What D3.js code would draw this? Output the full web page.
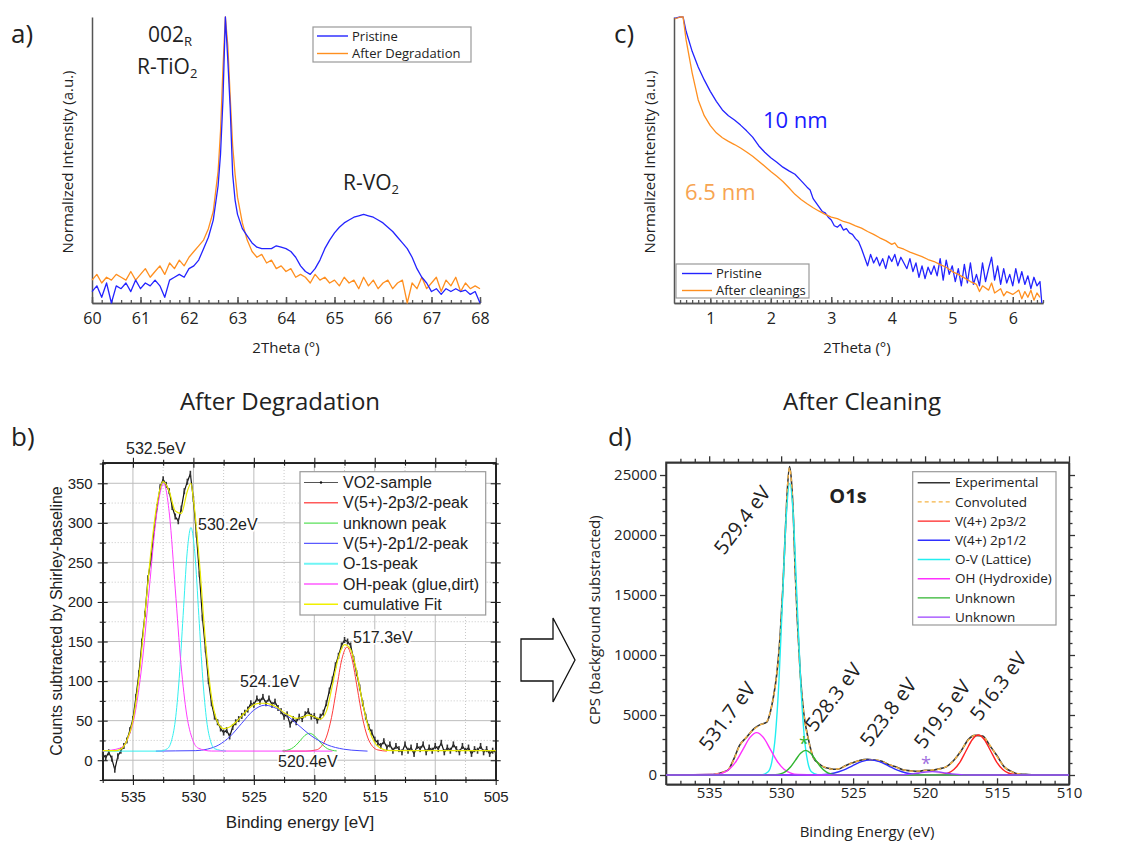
<!DOCTYPE html>
<html>
<head lang="en">
    <meta charset="UTF-8">
    <title>XRD / XPS VO2</title>
    <script src="https://cdn.jsdelivr.net/npm/d3@7/dist/d3.min.js"></script>
    <style>
        body { margin: 0; background: #fff; }
        svg text { font-family: "Open Sans", sans-serif; fill: #222; }
        svg .arial text, svg text.arial { font-family: "Liberation Sans", Arial, sans-serif; }
    </style>
</head>
<body>
<svg id="fig" width="1121" height="841"></svg>
<script type="text/javascript">
// ---------- a) XRD around the 002 TiO2 reflection ----------
var aTheta = [60.0,60.1,60.2,60.3,60.4,60.5,60.6,60.7,60.8,60.9,61.0,61.1,61.2,61.3,61.4,61.5,61.6,61.7,61.8,61.9,
  62.0,62.1,62.2,62.3,62.4,62.5,62.6,62.65,62.7,62.75,62.8,62.85,62.9,62.95,63.0,63.1,63.2,63.3,63.4,63.5,
  63.6,63.7,63.8,63.9,64.0,64.1,64.2,64.3,64.4,64.5,64.6,64.7,64.8,64.9,65.0,65.1,65.2,65.3,65.4,65.5,
  65.6,65.7,65.8,65.9,66.0,66.1,66.2,66.3,66.4,66.5,66.6,66.7,66.8,66.9,67.0,67.1,67.2,67.3,67.4,67.5,
  67.6,67.7,67.8,67.9,68.0];
var aPristine = [0.04,0.06,0.02,0.07,0.00,0.06,0.05,0.07,0.04,0.08,0.05,0.07,0.06,0.08,0.06,0.02,0.08,0.09,0.10,0.09,
  0.12,0.13,0.15,0.19,0.23,0.29,0.41,0.52,0.71,1.00,0.85,0.68,0.45,0.36,0.31,0.26,0.235,0.21,0.195,0.19,
  0.19,0.19,0.20,0.195,0.19,0.18,0.16,0.13,0.11,0.10,0.12,0.15,0.19,0.22,0.245,0.265,0.28,0.29,0.30,0.305,
  0.31,0.305,0.30,0.29,0.28,0.265,0.25,0.23,0.21,0.19,0.16,0.12,0.09,0.07,0.04,0.05,0.03,0.05,0.04,0.05,
  0.04,0.045,0.03,0.04,0.0];
var aDegraded = [0.08,0.10,0.07,0.09,0.08,0.10,0.09,0.08,0.11,0.08,0.10,0.12,0.09,0.11,0.13,0.10,0.14,0.12,0.15,0.13,
  0.16,0.18,0.20,0.22,0.26,0.32,0.46,0.60,0.82,1.00,0.90,0.72,0.55,0.45,0.37,0.28,0.22,0.18,0.16,0.17,
  0.14,0.15,0.12,0.13,0.11,0.12,0.09,0.10,0.09,0.07,0.10,0.08,0.09,0.07,0.08,0.06,0.09,0.07,0.08,0.05,
  0.09,0.06,0.08,0.05,0.07,0.08,0.05,0.07,0.08,0.00,0.07,0.05,0.09,0.05,0.07,0.09,0.04,0.08,0.06,0.09,
  0.04,0.07,0.05,0.06,0.05];
var aTicks = [60, 61, 62, 63, 64, 65, 66, 67, 68];

// ---------- c) XRR ----------
var cThetaP = [0.41,0.5,0.55,0.6,0.7,0.8,0.9,1.0,1.1,1.2,1.3,1.4,1.5,1.6,1.7,1.8,1.9,2.0,2.1,2.2,2.3,2.4,2.5,2.6,2.65,
  2.7,2.75,2.8,2.85,2.9,2.95,3.0,3.05,3.1,3.15,3.2,3.25,3.3,3.35,3.4,3.45,3.5,3.55,3.6,3.65,3.7,3.75,3.8,3.85,3.9,
  3.95,4.0,4.05,4.1,4.15,4.2,4.25,4.3,4.35,4.4,4.45,4.5,4.55,4.6,4.65,4.7,4.75,4.8,4.85,4.9,4.95,5.0,5.05,5.1,5.15,
  5.2,5.25,5.3,5.35,5.4,5.45,5.5,5.55,5.6,5.65,5.7,5.75,5.8,5.85,5.9,5.95,6.0,6.05,6.1,6.15,6.2,6.25,6.3,6.35,6.4,
  6.45,6.48];
var cPristine = [0.995,1.0,1.0,0.95,0.88,0.825,0.78,0.74,0.705,0.675,0.655,0.64,0.622,0.602,0.58,0.55,0.527,0.508,0.492,0.475,0.462,0.45,0.428,0.405,0.395,
  0.365,0.35,0.335,0.32,0.315,0.30,0.29,0.27,0.265,0.275,0.255,0.26,0.245,0.24,0.225,0.215,0.19,0.16,0.13,0.17,0.14,0.16,0.13,0.155,0.12,
  0.165,0.145,0.17,0.13,0.16,0.14,0.12,0.155,0.11,0.14,0.09,0.13,0.085,0.125,0.10,0.13,0.095,0.155,0.08,0.15,0.10,0.13,0.075,0.12,0.06,
  0.135,0.07,0.14,0.065,0.10,0.06,0.14,0.075,0.12,0.16,0.08,0.13,0.065,0.12,0.07,0.10,0.06,0.12,0.07,0.11,0.065,0.095,0.05,0.09,0.06,
  0.075,0.0];
var cThetaC = [0.41,0.5,0.55,0.6,0.7,0.8,0.9,1.0,1.1,1.2,1.3,1.4,1.5,1.6,1.7,1.8,1.9,2.0,2.1,2.2,2.3,2.4,2.5,2.6,2.7,
  2.8,2.9,3.0,3.1,3.2,3.3,3.4,3.5,3.6,3.7,3.8,3.9,4.0,4.05,4.1,4.2,4.3,4.4,4.5,4.6,4.7,4.8,4.9,5.0,5.1,
  5.2,5.3,5.4,5.45,5.5,5.6,5.65,5.7,5.8,5.85,5.9,6.0,6.1,6.15,6.2,6.25,6.3,6.35,6.4,6.45];
var cCleaned = [0.993,1.0,1.0,0.92,0.805,0.71,0.655,0.62,0.595,0.578,0.565,0.554,0.542,0.528,0.513,0.496,0.478,0.46,0.443,0.425,0.403,0.38,0.362,0.347,0.333,
  0.321,0.31,0.30,0.295,0.285,0.279,0.27,0.262,0.25,0.24,0.228,0.218,0.205,0.21,0.195,0.188,0.178,0.17,0.162,0.152,0.145,0.134,0.125,0.11,0.10,
  0.088,0.075,0.065,0.04,0.06,0.045,0.07,0.035,0.05,0.025,0.04,0.03,0.045,0.015,0.04,0.02,0.045,0.01,0.035,0.02];
var cTicks = [1, 2, 3, 4, 5, 6];

// ---------- b) XPS after degradation ----------
var bEnergy = d3.range(537.5, 504.99, -0.25);
var bCounts = [8,3,10,2, -12,5,12,18, 25,38,52,80, 110,150,185,230, 255,290,320,345, 355,348,340,320,
  308,302,318,340, 352,362,330,285, 235,180,140,100, 72,55,48,40, 35,38,30,42, 48,52,56,60,
  64,72,70,78, 74,80,72,78, 70,74,66,62, 55,58,45,52, 48,55,52,58, 62,55,56,50,
  55,60,72,88, 102,120,132,145, 152,150,145,128, 110,92,72,55, 42,35,26,22, 18,24,16,20,
  12,18,14,10, 20,12,16,8, 18,14,20,10, 16,12,18,14, 22,10,16,12, 20,14,10,18,
  12,16,8,14, 12,18,10,14, 8,12,10];
var bV2p32 = [[522.6,11.5],[520.7,11.5],[519.85,13],[519.425,17.3],[519,29.3],[518.575,54.2],[518.15,91.3],[517.725,127.5],
  [517.3,143],[516.875,127.5],[516.45,91.3],[516.025,54.2],[515.6,29.3],[515.175,17.3],[514.75,13],[514,11.5]];
var bUnknown = [[522.65,11.75],[522.275,12.5],[521.9,14.5],[521.525,18.8],[521.15,25.1],[520.775,31.4],[520.4,34],
  [520.025,31.4],[519.65,25.1],[519.275,18.8],[518.9,14.5],[518.525,12.5],[518.15,11.75]];
var bV2p12 = [[533.1,11.5],[531.5,11.8],[529.8,12.1],[528.85,14],[527.9,19.3],[526.95,30.3],[526,46.7],[525.05,62.7],
  [524.1,69.5],[522.8,62.7],[521.5,46.7],[520.2,30.3],[518.9,19.3],[517.6,14],[516.3,12.1],[515.6,11.5]];
var bO1s = [[537.5,11.5],[532.8,11.5],[532.15,14.6],[531.825,23.9],[531.5,49.7],[531.175,103.2],[530.85,182.8],[530.525,260.8],
  [530.2,294],[529.875,260.8],[529.55,182.8],[529.225,103.2],[528.9,49.7],[528.575,23.9],[528.25,14.6],[527.3,11.5]];
var bOH = [[537.5,11.6],[536.05,15.3],[535.45,26.3],[534.85,57.2],[534.25,121.3],[533.65,216.5],[533.05,309.8],[532.45,349.5],
  [531.975,309.8],[531.5,216.5],[531.025,121.3],[530.55,57.2],[530.075,26.3],[529.6,15.3],[528.5,11.6],[518.5,11.5]];
var bFit = [[537.5,12],[536.5,12],[536,14],[535.5,25],[535,50],[534.5,105],[534,185],[533.5,265],[533,325],[532.5,352],
  [532,340],[531.5,315],[531,312],[530.5,340],[530.2,350],[530,330],[529.5,250],[529,150],[528.5,80],[528,48],
  [527.5,40],[527,42],[526.5,48],[526,56],[525.5,64],[525,70],[524.5,72],[524,72],[523.5,70],[523,66],
  [522.5,60],[522,56],[521.5,53],[521,54],[520.5,57],[520,55],[519.5,52],[519,62],[518.5,95],[518,130],
  [517.5,146],[517,140],[516.5,112],[516,72],[515.5,40],[515,22],[514.5,15],[514,12.5],[513,12],[505,12]];
var bXTicks = [535, 530, 525, 520, 515, 510, 505];
var bXMinor = [537.5, 532.5, 527.5, 522.5, 517.5, 512.5, 507.5];
var bYTicks = [0, 50, 100, 150, 200, 250, 300, 350];
var bYMinor = [-25, 25, 75, 125, 175, 225, 275, 325, 375];

// ---------- d) XPS after cleaning ----------
var dEnergy = [538,536,535,534.5,534,533.7,533.3,532.9,532.4,531.9,531.46,531.0,530.75,530.53,530.3,530.07,529.88,529.72,529.6,529.42,
  529.26,529.14,529.03,528.87,528.68,528.45,528.1,527.76,527.4,527.06,526.7,526.37,526,525.5,525,524.5,524,523.5,523,522.5,
  522,521.5,521,520.5,520,519.5,519,518.5,518,517.5,517,516.5,516,515.5,515,514.5,514,513.5,513,512,510];
var dExp = [0,20,30,90,260,400,1300,2450,3150,3850,4200,4400,5250,6550,8450,11600,15600,20000,23100,25700,
  24100,21200,17200,12800,8600,5350,2950,1450,980,680,560,480,500,800,1030,1230,1300,1240,1140,860,
  660,410,350,300,390,400,520,700,1230,2000,2950,3300,3250,2450,1600,680,300,80,60,-20,10];
var dConv = [0,5,30,100,250,420,1250,2400,3190,3800,4170,4440,5300,6500,8500,11500,15700,19900,23200,25600,
  24000,21250,17100,12900,8500,5400,2900,1500,950,700,550,470,520,780,1050,1200,1280,1260,1120,880,
  640,430,330,320,370,420,500,720,1200,2050,2900,3320,3200,2500,1550,700,280,100,30,5,0];
var dV2p32 = [[538,0],[519.7,1],[518.85,37],[518.425,146],[518,451],[517.575,1081],[517.15,2020],[516.725,2939],[516.3,3330],
  [515.875,2939],[515.45,2020],[515.025,1081],[514.6,451],[514.175,146],[513.75,37],[512.9,1],[510,0]];
var dV2p12 = [[538,0],[528.8,0.4],[527.55,14],[526.925,55],[526.3,170],[525.675,409],[525.05,764],[524.425,1112],[523.8,1260],
  [523.175,1112],[522.55,764],[521.925,409],[521.3,170],[520.675,55],[520.05,14],[518.8,0.4],[510,0]];
var dLattice = [[538,0],[531.4,8],[530.9,270],[530.65,1067],[530.4,3288],[530.15,7890],[529.9,14738],[529.65,21445],[529.4,24300],
  [529.15,21445],[528.9,14738],[528.65,7890],[528.4,3288],[528.15,1067],[527.9,270],[527.4,8],[510,0]];
var dHydroxide = [[538,0],[534.55,39],[534.075,155],[533.6,478],[533.125,1146],[532.65,2141],[532.175,3115],[531.7,3530],
  [531.225,3115],[530.75,2141],[530.275,1146],[529.8,478],[529.325,155],[528.85,39],[527.5,0],[510,0]];
var dUnknownA = [[538,0],[531.1,1],[530.4,23],[530.05,90],[529.7,277],[529.35,666],[529,1243],[528.65,1809],[528.3,2050],
  [527.95,1809],[527.6,1243],[527.25,666],[526.9,277],[526.55,90],[526.2,23],[525.5,1],[510,0]];
var dUnknownB = [[538,0],[523.1,0],[522.2,3],[521.75,12],[521.3,38],[520.85,91],[520.4,170],[519.95,247],[519.5,280],
  [519.05,247],[518.6,170],[518.15,91],[517.7,38],[517.25,12],[516.8,3],[515.9,0],[510,0]];
var dXTicks = [535, 530, 525, 520, 515, 510];
var dYTicks = [0, 5000, 10000, 15000, 20000, 25000];

var svg = d3.select('#fig');

function zip(xs, ys) {
  return xs.map(function(v, i) { return [v, ys[i]]; });
}
function drawLine(g, x, y, pts, color, width, curve, dash) {
  var gen = d3.line().x(function(d) { return x(d[0]); }).y(function(d) { return y(d[1]); });
  if (curve) gen.curve(curve);
  var p = g.append('path').datum(pts).attr('d', gen)
    .attr('fill', 'none').attr('stroke', color).attr('stroke-width', width)
    .attr('stroke-linejoin', 'round');
  if (dash) p.attr('stroke-dasharray', dash);
  return p;
}
function styleAxis(sel, color, width, font, size) {
  sel.selectAll('path, line').attr('stroke', color).attr('stroke-width', width);
  sel.attr('font-family', font).attr('font-size', size);
  sel.selectAll('text').attr('fill', '#222').style('font-family', font);
}
function legend(g, x, y, w, h, rows, lineX1, lineX2, textX, rowY0, rowStep, size) {
  g.append('rect').attr('x', x).attr('y', y).attr('width', w).attr('height', h)
    .attr('fill', '#fff').attr('stroke', '#999').attr('stroke-width', 1.2);
  rows.forEach(function(r, i) {
    var yy = rowY0 + i * rowStep;
    var l = g.append('line').attr('x1', lineX1).attr('x2', lineX2).attr('y1', yy).attr('y2', yy)
      .attr('stroke', r[1]).attr('stroke-width', r[2] || 1.4);
    if (r[3]) l.attr('stroke-dasharray', r[3]);
    g.append('text').attr('x', textX).attr('y', yy).attr('dy', '0.35em')
      .attr('font-size', size).text(r[0]);
  });
}

var FONT = '"Open Sans", sans-serif';
var ARIAL = '"Liberation Sans", Arial, sans-serif';
var BLUE = '#2323ff', ORANGE = '#ff8f1f';

// ===== panel a =====
var gA = svg.append('g');
var xA = d3.scaleLinear().domain([60, 68]).range([92, 480]);
var yA = d3.scaleLinear().domain([0, 1]).range([303, 17]);
gA.append('g').attr('transform', 'translate(0,303)')
  .call(d3.axisBottom(xA).tickValues(d3.range(60, 68.001, 0.2)).tickSize(-3).tickSizeOuter(0).tickFormat(''))
  .call(styleAxis, '#555', 1.3, FONT, 16);
gA.append('g').attr('transform', 'translate(0,303)')
  .call(d3.axisBottom(xA).tickValues(aTicks).tickSize(-6).tickSizeOuter(0).tickPadding(10).tickFormat(d3.format('d')))
  .call(styleAxis, '#555', 1.5, FONT, 16);
gA.append('g').attr('transform', 'translate(92,0)')
  .call(d3.axisLeft(yA).tickValues([]).tickSizeOuter(0))
  .call(styleAxis, '#555', 1.5, FONT, 16);
drawLine(gA, xA, yA, zip(aTheta, aDegraded), ORANGE, 1.3);
drawLine(gA, xA, yA, zip(aTheta, aPristine), BLUE, 1.3);
legend(gA, 313, 27, 158, 35, [['Pristine', BLUE], ['After Degradation', ORANGE]], 317, 348, 352, 36, 17.5, 13);
gA.append('text').attr('x', 286).attr('y', 353).attr('text-anchor', 'middle').attr('font-size', 15).text('2Theta (°)');
gA.append('text').attr('transform', 'translate(73,162) rotate(-90)').attr('text-anchor', 'middle')
  .attr('font-size', 15).text('Normalized Intensity (a.u.)');
var t1 = gA.append('text').attr('x', 148).attr('y', 42).attr('font-size', 21);
t1.append('tspan').text('002');
t1.append('tspan').attr('font-size', 13).attr('dy', 4).text('R');
var t2 = gA.append('text').attr('x', 137).attr('y', 74).attr('font-size', 21);
t2.append('tspan').text('R-TiO');
t2.append('tspan').attr('font-size', 13).attr('dy', 4).text('2');
var t3 = gA.append('text').attr('x', 343).attr('y', 190).attr('font-size', 21);
t3.append('tspan').text('R-VO');
t3.append('tspan').attr('font-size', 13).attr('dy', 4).text('2');
gA.append('text').attr('x', 11).attr('y', 43).attr('font-size', 26).text('a)');

// ===== panel c =====
var gC = svg.append('g');
var xC = d3.scaleLinear().domain([0.4, 6.5]).range([674, 1043]);
var yC = d3.scaleLinear().domain([0, 1]).range([303, 17]);
gC.append('g').attr('transform', 'translate(0,303)')
  .call(d3.axisBottom(xC).tickValues(d3.range(0.5, 6.501, 0.1)).tickSize(-3).tickSizeOuter(0).tickFormat(''))
  .call(styleAxis, '#555', 1.3, FONT, 16);
gC.append('g').attr('transform', 'translate(0,303)')
  .call(d3.axisBottom(xC).tickValues(cTicks).tickSize(-6).tickSizeOuter(0).tickPadding(10).tickFormat(d3.format('d')))
  .call(styleAxis, '#555', 1.5, FONT, 16);
gC.append('g').attr('transform', 'translate(674,0)')
  .call(d3.axisLeft(yC).tickValues([]).tickSizeOuter(0))
  .call(styleAxis, '#555', 1.5, FONT, 16);
drawLine(gC, xC, yC, zip(cThetaP, cPristine), BLUE, 1.3);
drawLine(gC, xC, yC, zip(cThetaC, cCleaned), ORANGE, 1.3);
legend(gC, 676, 264, 133, 34, [['Pristine', BLUE], ['After cleanings', ORANGE]], 682, 712, 716, 273.5, 17, 13);
gC.append('text').attr('x', 857).attr('y', 353).attr('text-anchor', 'middle').attr('font-size', 15).text('2Theta (°)');
gC.append('text').attr('transform', 'translate(655,162) rotate(-90)').attr('text-anchor', 'middle')
  .attr('font-size', 15).text('Normalized Intensity (a.u.)');
gC.append('text').attr('x', 763).attr('y', 128).attr('font-size', 22).style('fill', '#1a1aff').text('10 nm');
gC.append('text').attr('x', 685).attr('y', 200).attr('font-size', 22).style('fill', '#f7a451').text('6.5 nm');
gC.append('text').attr('x', 614).attr('y', 43).attr('font-size', 26).text('c)');

// ===== middle titles + arrow =====
svg.append('text').attr('x', 280).attr('y', 410).attr('text-anchor', 'middle').attr('font-size', 24).text('After Degradation');
svg.append('text').attr('x', 862).attr('y', 410).attr('text-anchor', 'middle').attr('font-size', 24).text('After Cleaning');
svg.append('path')
  .attr('d', 'M521,639 L553,639 L553,618 L575,660 L553,702 L553,681 L521,681 Z')
  .attr('fill', '#fff').attr('stroke', '#111').attr('stroke-width', 1.3);

// ===== panel b =====
var gB = svg.append('g').attr('class', 'arial');
var xB = d3.scaleLinear().domain([537.5, 505]).range([102.7, 495.7]);
var yB = d3.scaleLinear().domain([-25, 376]).range([780, 462.7]);
var grid = gB.append('g');
bXMinor.forEach(function(v) {
  grid.append('line').attr('x1', xB(v)).attr('x2', xB(v)).attr('y1', yB(-25)).attr('y2', yB(376))
    .attr('stroke', '#c8c8c8').attr('stroke-dasharray', '1,2');
});
bYMinor.forEach(function(v) {
  grid.append('line').attr('y1', yB(v)).attr('y2', yB(v)).attr('x1', xB(537.5)).attr('x2', xB(505))
    .attr('stroke', '#c8c8c8').attr('stroke-dasharray', '1,2');
});
bXTicks.forEach(function(v) {
  grid.append('line').attr('x1', xB(v)).attr('x2', xB(v)).attr('y1', yB(-25)).attr('y2', yB(376))
    .attr('stroke', '#bdbdbd');
});
bYTicks.forEach(function(v) {
  grid.append('line').attr('y1', yB(v)).attr('y2', yB(v)).attr('x1', xB(537.5)).attr('x2', xB(505))
    .attr('stroke', '#bdbdbd');
});
function crossTicks(g, axisFn, scale, vals, len, tr, fmt, pad) {
  g.append('g').attr('transform', tr)
    .call(axisFn(scale).tickValues(vals).tickSize(len).tickSizeOuter(0).tickPadding(pad || 3).tickFormat(fmt || ''))
    .call(styleAxis, '#222', 1.1, ARIAL, 15);
  g.append('g').attr('transform', tr)
    .call(axisFn(scale).tickValues(vals).tickSize(-len).tickSizeOuter(0).tickFormat(''))
    .call(styleAxis, '#222', 1.1, ARIAL, 15);
}
crossTicks(gB, d3.axisBottom, xB, bXTicks, 5, 'translate(0,780)', d3.format('d'), 6);
crossTicks(gB, d3.axisBottom, xB, bXMinor, 3, 'translate(0,780)');
crossTicks(gB, d3.axisTop, xB, bXTicks, 5, 'translate(0,462.7)');
crossTicks(gB, d3.axisTop, xB, bXMinor, 3, 'translate(0,462.7)');
crossTicks(gB, d3.axisLeft, yB, bYTicks, 5, 'translate(102.7,0)', d3.format('d'), 5);
crossTicks(gB, d3.axisLeft, yB, bYMinor, 3, 'translate(102.7,0)');
crossTicks(gB, d3.axisRight, yB, bYTicks, 5, 'translate(495.7,0)');
crossTicks(gB, d3.axisRight, yB, bYMinor, 3, 'translate(495.7,0)');
gB.append('rect').attr('x', 102.7).attr('y', 462.7).attr('width', 393).attr('height', 317.3)
  .attr('fill', 'none').attr('stroke', '#222').attr('stroke-width', 1.2);

drawLine(gB, xB, yB, zip(bEnergy, bCounts), '#111', 1.2);
gB.append('g').selectAll('rect').data(zip(bEnergy, bCounts)).enter().append('rect')
  .attr('x', function(d) { return xB(d[0]) - 0.8; }).attr('y', function(d) { return yB(d[1]) - 3; })
  .attr('width', 1.6).attr('height', 6).attr('fill', '#333');
drawLine(gB, xB, yB, bV2p32, '#ff3b3b', 1, d3.curveMonotoneX);
drawLine(gB, xB, yB, bUnknown, '#3ddc3d', 1, d3.curveMonotoneX);
drawLine(gB, xB, yB, bV2p12, '#4646ff', 1, d3.curveMonotoneX);
drawLine(gB, xB, yB, bO1s, '#33f0f0', 1, d3.curveMonotoneX);
drawLine(gB, xB, yB, bOH, '#ff3cff', 1, d3.curveMonotoneX);
drawLine(gB, xB, yB, bFit, '#e8e800', 1.2, d3.curveMonotoneX);

var bLabels = [['532.5eV', 126, 454], ['530.2eV', 198, 530], ['524.1eV', 240, 687], ['520.4eV', 278, 767], ['517.3eV', 353, 643]];
bLabels.forEach(function(l) {
  gB.append('text').attr('x', l[1]).attr('y', l[2]).attr('font-size', 16)
    .attr('stroke', '#fff').attr('stroke-width', 3).attr('paint-order', 'stroke').text(l[0]);
});
legend(gB, 300, 471.7, 185.7, 143.3, [
  ['VO2-sample', '#555', 1], ['V(5+)-2p3/2-peak', '#ff5a5a'], ['unknown peak', '#5ae05a'],
  ['V(5+)-2p1/2-peak', '#5a5aff'], ['O-1s-peak', '#6ff5f5', 2], ['OH-peak (glue,dirt)', '#ff5aff'],
  ['cumulative Fit', '#f0f000', 1.6]], 304, 338, 343, 482.5, 20.3, 16);
gB.append('circle').attr('cx', 321).attr('cy', 482.5).attr('r', 1.2).attr('fill', '#111');
gB.append('text').attr('transform', 'translate(62,621) rotate(-90)').attr('text-anchor', 'middle')
  .attr('font-size', 16).text('Counts subtracted by Shirley-baseline');
gB.append('text').attr('x', 300).attr('y', 828).attr('text-anchor', 'middle').attr('font-size', 17).text('Binding energy [eV]');
svg.append('text').attr('x', 11).attr('y', 446).attr('font-size', 26).text('b)');

// ===== panel d =====
var gD = svg.append('g');
var xD = d3.scaleLinear().domain([538, 510]).range([666, 1069]);
var yD = d3.scaleLinear().domain([-775, 26060]).range([784.3, 462.3]);
var dXMinor = d3.range(537, 510, -1).filter(function(v) { return v % 5 !== 0; });
var dYMinor = d3.range(1000, 26000, 1000).filter(function(v) { return v % 5000 !== 0; });
function dAxis(axisFn, scale, vals, len, tr, fmt, pad) {
  gD.append('g').attr('transform', tr)
    .call(axisFn(scale).tickValues(vals).tickSize(len).tickSizeOuter(0).tickPadding(pad || 3).tickFormat(fmt || ''))
    .call(styleAxis, '#333', 1.3, FONT, 15);
}
dAxis(d3.axisBottom, xD, dXTicks, -6, 'translate(0,784.3)', d3.format('d'), 3);
dAxis(d3.axisBottom, xD, dXMinor, -3.5, 'translate(0,784.3)');
dAxis(d3.axisTop, xD, dXTicks, 6, 'translate(0,462.3)');
dAxis(d3.axisTop, xD, dXMinor, 3.5, 'translate(0,462.3)');
dAxis(d3.axisLeft, yD, dYTicks, 6, 'translate(666,0)', d3.format('d'), 3);
dAxis(d3.axisLeft, yD, dYMinor, 3.5, 'translate(666,0)');
dAxis(d3.axisRight, yD, dYTicks, 6, 'translate(1069,0)');
dAxis(d3.axisRight, yD, dYMinor, 3.5, 'translate(1069,0)');
gD.append('rect').attr('x', 666).attr('y', 462.3).attr('width', 403).attr('height', 322)
  .attr('fill', 'none').attr('stroke', '#333').attr('stroke-width', 1.5);

drawLine(gD, xD, yD, zip(dEnergy, dExp), '#333', 1.6, d3.curveMonotoneX);
drawLine(gD, xD, yD, zip(dEnergy, dConv), '#f5b445', 1.4, d3.curveMonotoneX, '4,3');
drawLine(gD, xD, yD, dV2p32, '#ff2222', 1.4, d3.curveMonotoneX);
drawLine(gD, xD, yD, dV2p12, '#2f2fff', 1.4, d3.curveMonotoneX);
drawLine(gD, xD, yD, dLattice, '#22eef0', 1.4, d3.curveMonotoneX);
drawLine(gD, xD, yD, dHydroxide, '#ff30ff', 1.4, d3.curveMonotoneX);
drawLine(gD, xD, yD, dUnknownA, '#2fb52f', 1.4, d3.curveMonotoneX);
drawLine(gD, xD, yD, dUnknownB, '#9b40ff', 1.4, d3.curveMonotoneX);

var dLabels = [['529.4 eV', 724, 556], ['531.7 eV', 709, 752], ['528.3 eV', 815, 733],
  ['523.8 eV', 870, 748], ['519.5 eV', 924, 750], ['516.3 eV', 980, 722]];
dLabels.forEach(function(l) {
  gD.append('text').attr('transform', 'translate(' + l[1] + ',' + l[2] + ') rotate(-53)')
    .attr('font-size', 20).text(l[0]);
});
gD.append('text').attr('x', 804).attr('y', 750).attr('text-anchor', 'middle').attr('font-size', 18)
  .style('fill', '#2fb52f').text('*');
gD.append('text').attr('x', 926).attr('y', 770).attr('text-anchor', 'middle').attr('font-size', 18)
  .style('fill', '#a070e0').text('*');
gD.append('text').attr('x', 848).attr('y', 503).attr('text-anchor', 'middle').attr('font-size', 20)
  .attr('font-weight', 'bold').text('O1s');
legend(gD, 912.7, 471.7, 143.3, 153.3, [
  ['Experimental', '#333'], ['Convoluted', '#f5b445', 1.4, '4,3'], ['V(4+) 2p3/2', '#ff2222'],
  ['V(4+) 2p1/2', '#2f2fff'], ['O-V (Lattice)', '#22eef0'], ['OH (Hydroxide)', '#ff30ff'],
  ['Unknown', '#2fb52f'], ['Unknown', '#9b40ff']], 917.7, 950, 955, 482.7, 19.2, 13.5);
gD.append('text').attr('x', 867).attr('y', 837).attr('text-anchor', 'middle').attr('font-size', 15)
  .text('Binding Energy (eV)');
gD.append('text').attr('transform', 'translate(600,620) rotate(-90)').attr('text-anchor', 'middle')
  .attr('font-size', 15).text('CPS (background substracted)');
svg.append('text').attr('x', 608).attr('y', 446).attr('font-size', 26).text('d)');
</script>
</body>
</html>
